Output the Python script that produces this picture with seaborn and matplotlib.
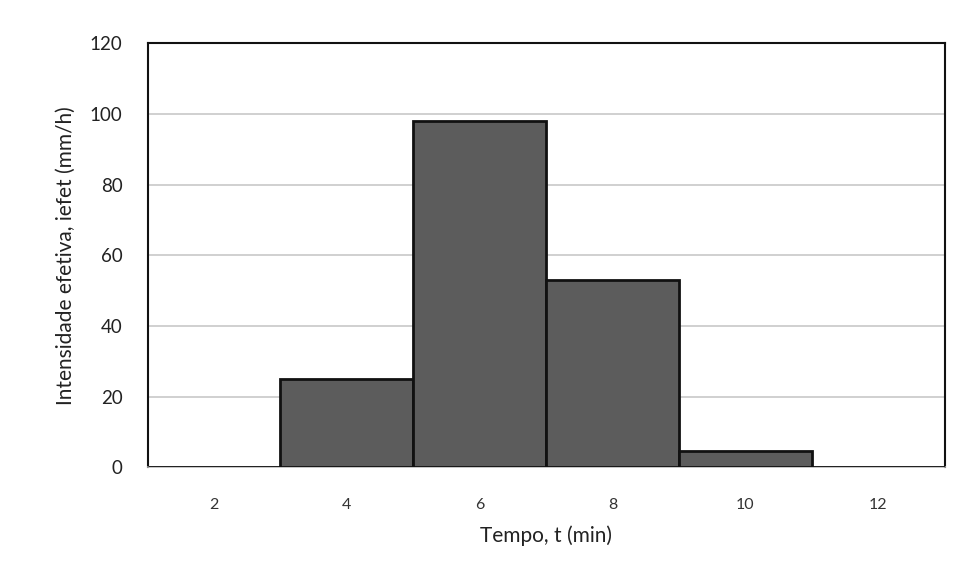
import matplotlib
matplotlib.use("Agg")
import matplotlib.pyplot as plt
import seaborn as sns
import pandas as pd

tempo = ["2", "4", "6", "8", "10", "12"]
intensidade = [0, 25, 98, 53, 4.5, 0]
y_ticks = [0, 20, 40, 60, 80, 100, 120]

sns.set_theme(style="white")
plt.rcParams['font.family'] = ['Lato', 'DejaVu Sans']

df = pd.DataFrame({"Tempo": tempo, "Intensidade": intensidade})

fig = plt.figure(figsize=(9.65, 5.84), dpi=100)
ax = fig.add_axes([0.153, 0.200, 0.826, 0.726])
sns.barplot(data=df, x="Tempo", y="Intensidade", order=tempo, width=1.0,
            color="#5c5c5c", saturation=1, edgecolor="#111111", linewidth=2, ax=ax, zorder=3)

ax.set_ylim(0, 120)
ax.set_xlim(-0.5, len(tempo) - 0.5)
ax.set_yticks(y_ticks)
ax.yaxis.grid(True, color="#c8c8c8", linewidth=1.2, zorder=0)
ax.set_axisbelow(True)
for s in ["top", "right", "left"]:
    ax.spines[s].set_color("#111111")
    ax.spines[s].set_linewidth(1.5)
ax.spines["bottom"].set_color("#bbbbbb")
ax.spines["bottom"].set_linewidth(1.2)

ax.tick_params(axis="x", length=0, pad=22, labelsize=11.5, colors="#333333")
ax.tick_params(axis="y", length=0, pad=18, labelsize=13.5, colors="#222222")
ax.set_xlabel("Tempo, t (min)", fontsize=15, color="#222222", labelpad=10)
ax.set_ylabel("Intensidade efetiva, iefet (mm/h)", fontsize=15, color="#222222", labelpad=10)

fig.savefig("out.png", dpi=100, facecolor="white")
